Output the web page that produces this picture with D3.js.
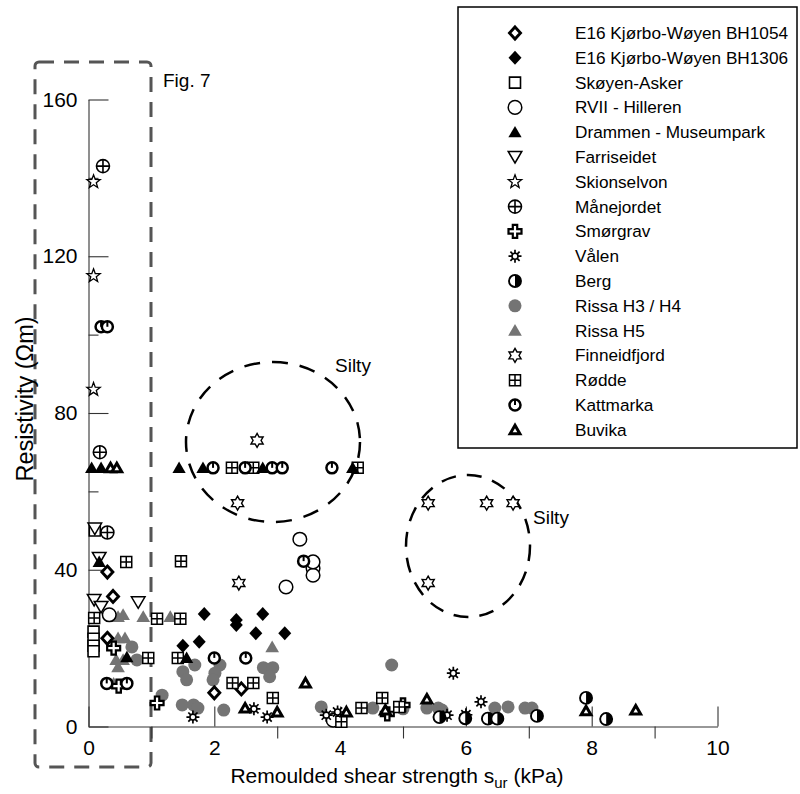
<!DOCTYPE html>
<html><head><meta charset="utf-8">
<script src="https://cdn.jsdelivr.net/npm/d3@7"></script>
<style>body{margin:0;background:#fff} text{font-family:"Liberation Sans",Arial,sans-serif;fill:#000}</style>
</head><body><svg id="c" width="800" height="794"></svg>
<script>
// ---- data ----
const xTicksMajor = [0,2,4,6,8,10];
const xTicksMinor = [1,3,5,7,9];
const yTicksMajor = [0,40,80,120,160];
const yTicksMinor = [20,60,100,140];

const seriesNames = ["E16 Kjørbo-Wøyen BH1054","E16 Kjørbo-Wøyen BH1306","Skøyen-Asker","RVII - Hilleren","Drammen - Museumpark","Farriseidet","Skionselvon","Månejordet","Smørgrav","Vålen","Berg","Rissa H3 / H4","Rissa H5","Finneidfjord","Rødde","Kattmarka","Buvika"];
const seriesSymbols = ["diamondOpen","diamondFill","square","circle","triFill","triDown","star5","circlePlus","plus","sun","half","grayCircle","grayTri","star6","squarePlus","katt","buvika"];

const bh1054 = [[0.3,39.4],[0.39,33.2],[0.3,22.5],[2.0,8.6],[2.43,9.6]];
const bh1306 = [[1.84,28.7],[2.35,27.2],[2.35,25.9],[2.77,28.7],[2.66,23.8],[3.12,23.8],[1.76,21.6],[1.5,20.6]];
const skoyen = [[0.1,50],[0.08,24.2],[0.08,22.4],[0.08,20.6],[0.08,19.2]];
const rvii = [[3.36,47.8],[3.57,40.4],[3.57,38.6],[3.14,35.6],[3.57,42],[0.33,28.5],[3.89,1.6]];
const drammen = [[0.05,66],[0.2,66],[1.44,66],[1.82,66],[2.77,66],[4.2,66],[0.17,42],[0.61,17.7],[1.56,17.5]];
const farriseidet = [[0.1,50.5],[0.17,43],[0.09,32.3],[0.2,30.5],[0.79,31.7]];
const skionselvon = [[0.08,139],[0.08,115],[0.08,86]];
const manejordet = [[0.23,143],[0.18,70],[0.3,49.5]];
const smorgrav = [[0.48,10.3],[1.09,6],[4.75,3.2],[5.0,5.5],[0.4,20]];
const valen = [[1.66,2.4],[2.63,4.5],[2.84,2.4],[3.78,2.9],[3.96,3.7],[5.8,13.6],[5.7,2.9],[6.24,6.3],[6.0,3]];
const berg = [[5.58,2.4],[5.99,2.1],[6.35,2],[6.5,2],[7.13,2.7],[7.91,7.3],[8.23,1.9]];
const rissaH34 = [[0.69,20.3],[0.77,17],[1.17,8],[1.49,5.5],[1.67,5.5],[1.74,4.7],[2.15,4.2],[1.69,15.7],[2.09,15.7],[2.01,13.6],[1.5,14],[1.56,11.9],[1.98,11.9],[2.78,15],[2.93,15],[2.88,12.7],[4.82,15.7],[3.7,5],[4.52,4.7],[5.0,4.5],[5.38,4.7],[5.56,4.7],[5.62,4.2],[6.46,4.7],[6.67,5],[6.94,4.7],[7.05,4.7]];
const rissaH5 = [[0.47,28],[0.55,28.5],[0.87,28],[1.3,28],[0.47,22.6],[0.58,22.6],[0.44,17],[0.55,17],[0.47,15.2],[2.92,20.3],[0.4,11]];
const finneidfjord = [[2.68,73],[2.37,57],[5.4,57],[6.33,57],[6.75,57],[5.4,36.6],[2.39,36.6]];
const rodde = [[0.6,42],[1.47,42.2],[0.09,27.7],[1.09,27.5],[1.46,27.5],[0.95,17.5],[1.42,17.5],[2.29,11.1],[2.62,11.1],[2.93,7.3],[4.02,1.2],[4.34,4.7],[4.67,7.3],[4.94,5],[2.28,66],[2.62,66],[4.28,66]];
const kattmarka = [[0.2,102],[0.3,102],[1.98,66],[2.49,66],[2.92,66],[3.08,66],[3.87,66],[3.42,42.2],[2.0,17.5],[2.5,17.5],[0.29,11],[0.61,11]];
const buvika = [[0.35,66],[0.45,66],[3.45,11.1],[2.49,4.7],[3.0,3.7],[4.1,3.7],[4.72,4.2],[5.38,7],[7.91,4],[8.7,4.2]];

const seriesData = [bh1054,bh1306,skoyen,rvii,drammen,farriseidet,skionselvon,manejordet,smorgrav,valen,berg,rissaH34,rissaH5,finneidfjord,rodde,kattmarka,buvika];

// ---- chart ----
const svg = d3.select("#c");
const x = d3.scaleLinear().domain([0,10]).range([88.5,717.5]);
const y = d3.scaleLinear().domain([0,160]).range([726.5,99.5]);
const GRAY = "#747474";

// dashed box
svg.append("rect").attr("x",35).attr("y",62).attr("width",116).attr("height",705).attr("rx",4)
  .attr("fill","none").attr("stroke","#555").attr("stroke-width",3).attr("stroke-dasharray","15,10");

svg.append("text").attr("x",163).attr("y",87).attr("font-size",19).text("Fig. 7");

// axes
function styleAxis(g){ g.selectAll("path.domain").attr("stroke","#333").attr("stroke-width",1.1);
  g.selectAll(".tick line").attr("stroke","#333").attr("stroke-width",1.1);
  g.selectAll(".tick text").attr("font-size",21).attr("font-family","Liberation Sans, Arial, sans-serif").attr("fill","#000"); }

svg.append("g").attr("transform",`translate(0,${y(0)})`)
  .call(d3.axisBottom(x).tickValues(xTicksMinor).tickSize(12).tickSizeOuter(0).tickFormat(""))
  .call(g=>{styleAxis(g); g.select(".domain").remove();});
svg.append("g").attr("transform",`translate(0,${y(0)})`)
  .call(d3.axisBottom(x).tickValues(xTicksMajor).tickSize(-20).tickSizeOuter(0).tickPadding(14).tickFormat(d3.format("d")))
  .call(styleAxis);
svg.append("g").attr("transform",`translate(${x(0)},0)`)
  .call(d3.axisLeft(y).tickValues(yTicksMinor).tickSize(-10).tickSizeOuter(0).tickFormat(""))
  .call(g=>{styleAxis(g); g.select(".domain").remove();});
svg.append("g").attr("transform",`translate(${x(0)},0)`)
  .call(d3.axisLeft(y).tickValues(yTicksMajor).tickSize(-20).tickSizeOuter(0).tickPadding(11).tickFormat(d3.format("d")))
  .call(styleAxis);

// axis labels
svg.append("text").attr("transform","translate(33,399) rotate(-90)").attr("text-anchor","middle")
  .attr("font-size",23.5).text("Resistivity (Ωm)");
const xl = svg.append("text").attr("x",397).attr("y",783).attr("text-anchor","middle").attr("font-size",21);
xl.append("tspan").text("Remoulded shear strength s");
xl.append("tspan").attr("font-size",15).attr("dy",5).text("ur");
xl.append("tspan").attr("dy",-5).text(" (kPa)");

// silty ellipses
svg.append("ellipse").attr("cx",273).attr("cy",442).attr("rx",87).attr("ry",80)
  .attr("fill","none").attr("stroke","#000").attr("stroke-width",2.5).attr("stroke-dasharray","16,12");
svg.append("ellipse").attr("cx",468).attr("cy",546).attr("rx",62).attr("ry",71)
  .attr("fill","none").attr("stroke","#000").attr("stroke-width",2.5).attr("stroke-dasharray","15,11");
svg.append("text").attr("x",335).attr("y",372).attr("font-size",19).text("Silty");
svg.append("text").attr("x",533).attr("y",524).attr("font-size",19).text("Silty");

// symbol drawing
function drawSymbol(g, type){
  const p = (d)=>g.append("path").attr("d",d);
  const tri = (r)=>{ const h=r*1.05; return `M0,${-h}L${h*1.05},${h*0.8}L${-h*1.05},${h*0.8}Z`; };
  switch(type){
    case "diamondOpen": p(`M0,-6L5.5,0L0,6L-5.5,0Z`).attr("fill","#fff").attr("stroke","#000").attr("stroke-width",2.9); break;
    case "diamondFill": p(`M0,-7L6.5,0L0,7L-6.5,0Z`).attr("fill","#000"); break;
    case "square": p(`M-5.5,-5.5H5.5V5.5H-5.5Z`).attr("fill","#fff").attr("stroke","#000").attr("stroke-width",1.6); break;
    case "circle": g.append("circle").attr("r",6.8).attr("fill","#fff").attr("stroke","#000").attr("stroke-width",1.5); break;
    case "triFill": p(tri(6)).attr("fill","#000"); break;
    case "buvika": p(`M0,-4.6L4.9,4L-4.9,4Z`).attr("fill","#fff").attr("stroke","#000").attr("stroke-width",3).attr("stroke-linejoin","miter"); break;
    case "triDown": p(`M0,6L6.8,-5.5L-6.8,-5.5Z`).attr("fill","#fff").attr("stroke","#000").attr("stroke-width",1.5); break;
    case "star5": {
      const pts=[]; for(let i=0;i<10;i++){const a=-Math.PI/2+i*Math.PI/5; const r=i%2?2.9:7; pts.push([r*Math.cos(a),r*Math.sin(a)]);}
      p("M"+pts.map(q=>q.map(v=>v.toFixed(2)).join(",")).join("L")+"Z").attr("fill","#fff").attr("stroke","#000").attr("stroke-width",1.3); break; }
    case "circlePlus": g.append("circle").attr("r",6.5).attr("fill","#fff").attr("stroke","#000").attr("stroke-width",1.6);
      p("M-6.5,0H6.5M0,-6.5V6.5").attr("stroke","#000").attr("stroke-width",1.6); break;
    case "plus": p("M-2.2,-6.5H2.2V-2.2H6.5V2.2H2.2V6.5H-2.2V2.2H-6.5V-2.2H-2.2Z").attr("fill","#fff").attr("stroke","#000").attr("stroke-width",2.2); break;
    case "sun": {
      let d=""; for(let i=0;i<8;i++){const a=i*Math.PI/4; d+=`M${(3*Math.cos(a)).toFixed(2)},${(3*Math.sin(a)).toFixed(2)}L${(6.5*Math.cos(a)).toFixed(2)},${(6.5*Math.sin(a)).toFixed(2)}`;}
      p(d).attr("stroke","#000").attr("stroke-width",1.7);
      g.append("circle").attr("r",3).attr("fill","#fff").attr("stroke","#000").attr("stroke-width",1.6); break; }
    case "half": g.append("circle").attr("r",6).attr("fill","#fff").attr("stroke","#000").attr("stroke-width",1.9);
      p("M0,-6A6,6 0 0 1 0,6Z").attr("fill","#000"); break;
    case "grayCircle": g.append("circle").attr("r",6.5).attr("fill",GRAY); break;
    case "grayTri": p(tri(6.2)).attr("fill",GRAY); break;
    case "star6": {
      const pts=[]; for(let i=0;i<12;i++){const a=-Math.PI/2+i*Math.PI/6; const r=i%2?4:7; pts.push([r*Math.cos(a),r*Math.sin(a)]);}
      p("M"+pts.map(q=>q.map(v=>v.toFixed(2)).join(",")).join("L")+"Z").attr("fill","#fff").attr("stroke","#000").attr("stroke-width",1.4); break; }
    case "squarePlus": p("M-5.5,-5.5H5.5V5.5H-5.5Z").attr("fill","#fff").attr("stroke","#000").attr("stroke-width",1.5);
      p("M-5.5,0H5.5M0,-5.5V5.5").attr("stroke","#000").attr("stroke-width",1.5); break;
    case "katt": g.append("circle").attr("r",5.5).attr("fill","#fff").attr("stroke","#000").attr("stroke-width",2.5);
      p("M0,-5.5V0").attr("stroke","#000").attr("stroke-width",2); break;
  }
}

// draw points (gray series first)
const order = [11,12,0,1,2,3,5,6,7,8,9,10,13,14,15,4,16];
const pts = svg.append("g");
order.forEach(si=>{
  pts.selectAll(null).data(seriesData[si]).enter().append("g")
    .attr("transform",d=>`translate(${x(d[0])},${y(d[1])})`)
    .each(function(){ drawSymbol(d3.select(this), seriesSymbols[si]); });
});

// legend
svg.append("rect").attr("x",458).attr("y",7).attr("width",339).attr("height",441)
  .attr("fill","#fff").attr("stroke","#000").attr("stroke-width",1.5);
const lg = svg.append("g");
seriesNames.forEach((n,i)=>{
  const yy = 33 + i*24.8;
  const g = lg.append("g").attr("transform",`translate(515,${yy})`);
  drawSymbol(g, seriesSymbols[i]);
  lg.append("text").attr("x",575).attr("y",yy+6).attr("font-size",17.2).attr("fill","#222").text(n);
});
</script></body></html>
